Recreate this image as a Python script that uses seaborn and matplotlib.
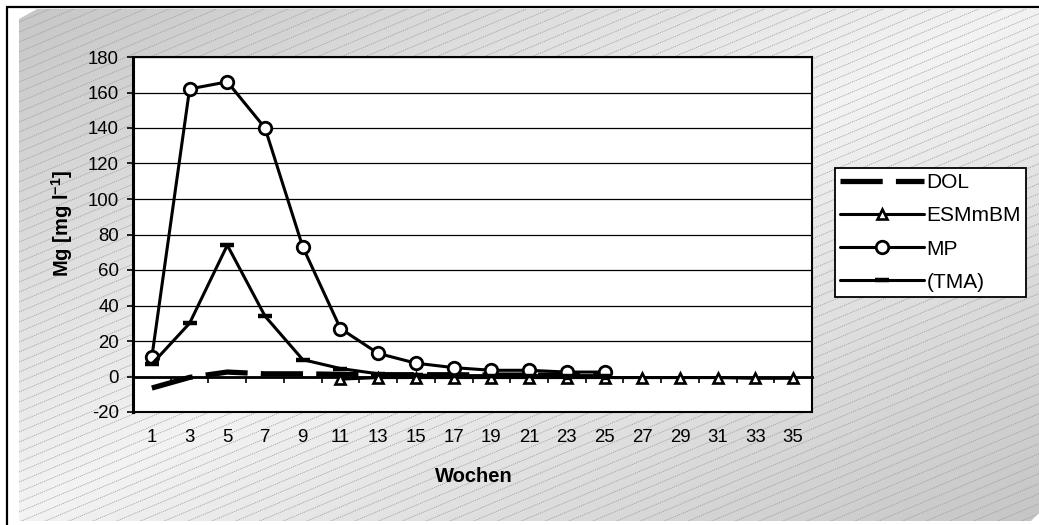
import numpy as np
import matplotlib
matplotlib.use("Agg")
import matplotlib.pyplot as plt
import seaborn as sns
from matplotlib.patches import Polygon

# Sampling weeks (every second week) and measured Mg concentrations [mg/l]
weeks = [1, 3, 5, 7, 9, 11, 13, 15, 17, 19, 21, 23, 25, 27, 29, 31, 33, 35]
week_labels = [str(w) for w in weeks]
nan = np.nan
dol = [-6.5, -0.5, 2.5, 1.5, 1.5, 1.2, 1.0, 1.0, 1.0, 0.8, 0.8, 0.8, 0.8,
       nan, nan, nan, nan, nan]
esmmbm = [nan, nan, nan, nan, nan, -1.5, -0.6, -0.6, -0.6, -0.6, -0.6, -0.6,
          -0.6, -0.6, -0.6, -0.6, -1.0, -1.0]
mp = [11, 162, 166, 140, 73, 27, 13, 7.5, 5, 3.5, 3.5, 2.5, 2.5,
      nan, nan, nan, nan, nan]
tma = [7, 30, 74, 34, 9.5, 4.5, 1.5, 0.8, 0.5, 0.5, 0.5, 0.5, 0.5,
       nan, nan, nan, nan, nan]
y_ticks = list(range(-20, 181, 20))

sns.set_theme(style="white")
plt.rcParams["font.family"] = ["Liberation Sans", "DejaVu Sans"]
plt.rcParams["axes.unicode_minus"] = False
plt.rcParams["mathtext.fontset"] = "custom"
plt.rcParams["mathtext.rm"] = "Liberation Sans"
plt.rcParams["mathtext.bf"] = "Liberation Sans:bold"

W, H = 1039, 525
fig = plt.figure(figsize=(W / 100, H / 100), dpi=100)
fig.patch.set_facecolor("white")

# ---- decorative chart-area background: diagonal gradient + hatch ----
bg = fig.add_axes([0, 0, 1, 1], zorder=-10)
bg.set_xlim(0, W)
bg.set_ylim(H, 0)
bg.axis("off")
panel = Polygon([(19, 19), (37, 9), (W, 9), (W, 513), (1031, 521), (19, 521)],
                closed=True, facecolor="none", edgecolor="none")
bg.add_patch(panel)
gx, gy = np.meshgrid(np.linspace(0, 1, W), np.linspace(0, 1, H))
shade = 0.77 + (0.95 - 0.77) * (1 - np.abs(gx + gy - 1))
im = bg.imshow(shade, cmap="gray", vmin=0, vmax=1, extent=(0, W, H, 0),
               aspect="auto", interpolation="bilinear")
im.set_clip_path(panel)
slope = 0.42
for c in np.arange(0, H + slope * W + 10, 10):
    ln, = bg.plot([0, W], [c, c - slope * W], color="#9a9a9a", lw=0.55,
                  ls=(0, (1.5, 1.2)))
    ln.set_clip_path(panel)
bg.plot([6, W], [7, 7], color="black", lw=1.6, solid_capstyle="butt")
bg.plot([6.5, 6.5], [7, H], color="black", lw=1.6, solid_capstyle="butt")

# ---- plot area ----
ax = fig.add_axes([133 / W, 1 - 412 / H, (812 - 133) / W, (412 - 57) / H])
ax.set_facecolor("white")
x = np.arange(len(weeks))

common = dict(ax=ax, color="black", estimator=None, sort=True)
sns.lineplot(x=x, y=dol, lw=3.8, ls=(0, (8, 2.5)), label="DOL", **common)
sns.lineplot(x=x, y=esmmbm, lw=2.2, marker="^", markersize=7,
             markerfacecolor="white", markeredgecolor="black",
             markeredgewidth=1.9, label="ESMmBM", **common)
sns.lineplot(x=x, y=mp, lw=2.2, marker="o", markersize=9,
             markerfacecolor="white", markeredgecolor="black",
             markeredgewidth=2.0, label="MP", **common)
sns.lineplot(x=x, y=tma, lw=2.2, marker="_", markersize=10,
             markeredgecolor="black", markeredgewidth=3.2,
             label="(TMA)", **common)

ax.set_xlim(-0.5, len(weeks) - 0.5)
ax.set_ylim(y_ticks[0], y_ticks[-1])
ax.set_yticks(y_ticks)
ax.set_xticks(x)
ax.set_xticklabels(week_labels)
ax.tick_params(axis="x", length=0, pad=12, labelsize=13.4, colors="black")
ax.tick_params(axis="y", left=True, length=4.3, width=1.2, direction="out",
               pad=5.8, labelsize=13.4, colors="black")
ax.grid(axis="y", color="black", lw=0.9)
ax.grid(axis="x", visible=False)
ax.set_axisbelow(True)
for side in ["top", "right", "bottom"]:
    ax.spines[side].set_color("black")
    ax.spines[side].set_linewidth(1.5)
ax.spines["left"].set_color("black")
ax.spines["left"].set_linewidth(2.2)

# category axis crossing at y = 0 with ticks between categories
zero_frac = (0 - y_ticks[0]) / (y_ticks[-1] - y_ticks[0])
sec = ax.secondary_xaxis(zero_frac)
sec.set_xticks(np.arange(0.5, len(weeks) - 1, 1))
sec.tick_params(axis="x", direction="out", bottom=True, top=False,
                labelbottom=False, labeltop=False, length=4.3, width=1.2,
                colors="black")
for s in sec.spines.values():
    s.set_color("black")
    s.set_linewidth(2.0)

ax.set_ylabel(r"Mg [mg l$^{\mathbf{-1}}$]", fontsize=14.5,
              fontweight="bold", color="black")
ax.yaxis.set_label_coords(-0.086, 0.53)
ax.set_xlabel("Wochen", fontsize=14.5, fontweight="bold", color="black")
ax.xaxis.set_label_coords(0.502, -0.155)

handles, labels = ax.get_legend_handles_labels()
leg = ax.legend(handles, labels, loc="upper left",
                bbox_to_anchor=(835 / W, 1 - 168 / H),
                bbox_transform=fig.transFigure, borderaxespad=0,
                frameon=True, fancybox=False, edgecolor="black",
                framealpha=1, fontsize=15, handlelength=4.0,
                handletextpad=0.15, labelspacing=0.68, borderpad=0.25)
leg.get_frame().set_linewidth(1.3)
for t in leg.get_texts():
    t.set_color("black")

fig.savefig("out.png", dpi=100)
